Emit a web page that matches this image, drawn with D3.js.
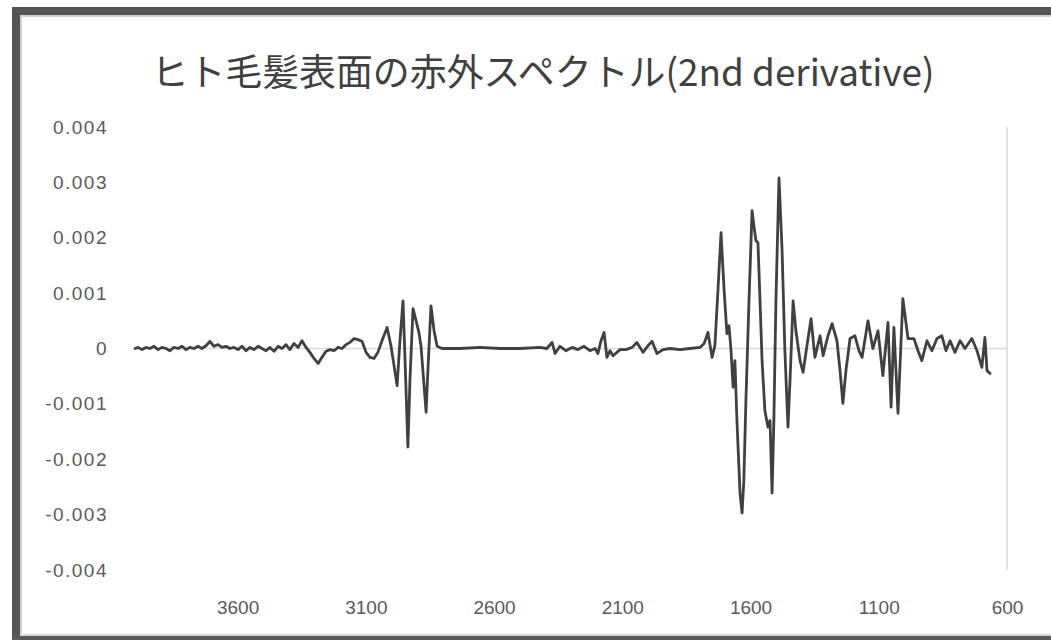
<!DOCTYPE html>
<html lang="ja">
<head>
<meta charset="utf-8">
<title>ヒト毛髪表面の赤外スペクトル(2nd derivative)</title>
<script src="https://cdn.jsdelivr.net/npm/d3@7"></script>
<style>
  html, body { margin: 0; padding: 0; background: #ffffff; }
  svg { display: block; }
</style>
</head>
<body>
<svg id="chart" width="1051" height="640"></svg>
<script>
// Second-derivative IR spectrum of the human hair surface (wavenumber in cm-1)
const wavenumber = [
  4000, 3988, 3973, 3957, 3942, 3926, 3910, 3895, 3879, 3864, 3848, 3832, 3817, 3801, 3786, 3770,
  3754, 3739, 3723, 3708, 3692, 3676, 3661, 3645, 3630, 3614, 3598, 3583, 3567, 3552, 3536, 3520,
  3505, 3489, 3474, 3458, 3442, 3427, 3411, 3396, 3380, 3364, 3349, 3333, 3318, 3302, 3286, 3271,
  3255, 3240, 3224, 3208, 3193, 3177, 3162, 3146, 3131, 3115, 3099, 3084, 3068, 3053, 3037, 3017,
  3002, 2978, 2967, 2955, 2947, 2936, 2928, 2916, 2904, 2893, 2885, 2873, 2865, 2858, 2846, 2834,
  2822, 2803, 2733, 2655, 2577, 2499, 2421, 2394, 2374, 2362, 2343, 2320, 2296, 2273, 2249, 2226,
  2206, 2195, 2183, 2171, 2160, 2148, 2136, 2109, 2086, 2062, 2043, 2019, 2000, 1984, 1965, 1941,
  1914, 1875, 1836, 1797, 1781, 1766, 1750, 1739, 1727, 1715, 1703, 1692, 1684, 1676, 1668, 1661,
  1653, 1641, 1633, 1626, 1618, 1606, 1594, 1587, 1579, 1571, 1563, 1555, 1544, 1532, 1524, 1516,
  1509, 1501, 1489, 1477, 1466, 1454, 1446, 1434, 1423, 1407, 1395, 1380, 1364, 1349, 1329, 1317,
  1298, 1282, 1263, 1251, 1240, 1228, 1212, 1193, 1177, 1165, 1142, 1123, 1103, 1084, 1064, 1052,
  1041, 1025, 1006, 986, 963, 947, 932, 912, 893, 873, 854, 838, 822, 803, 783, 764,
  737, 717, 698, 686, 678, 666
];

const secondDerivative = [
  0, 0.00002, -0.00002, 0.00002, 0, 0.00004, -0.00002, 0.00002, 0, -0.00004, 0.00002, 0, 0.00004, -0.00002, 0.00002, 0,
  0.00004, 0, 0.00005, 0.00013, 0.00004, 0.00007, 0.00002, 0.00004, 0, 0.00002, -0.00002, 0.00004, -0.00004, 0.00002, -0.00002, 0.00004,
  0, -0.00004, 0.00002, -0.00005, 0.00004, 0, 0.00007, -0.00002, 0.00009, 0.00002, 0.00014, 0.00002, -0.00007, -0.00018, -0.00027, -0.00016,
  -0.00005, -0.00002, -0.00004, 0.00002, 0, 0.00007, 0.00011, 0.00018, 0.00016, 0.00013, -0.00007, -0.00016, -0.00018, -0.00007, 0.00014, 0.00038,
  0.00005, -0.00067, 0.00014, 0.00086, -0.00022, -0.00178, -0.00058, 0.00072, 0.0005, 0.00029, 0.00005, -0.00067, -0.00115, -0.0004, 0.00077, 0.00032,
  0.00004, 0, 0, 0.00002, 0, 0, 0.00002, 0, 0.00011, -0.00009, 0.00004, -0.00004, 0.00002, -0.00002, 0.00004, -0.00004,
  0, -0.00009, 0.00014, 0.00029, -0.00016, -0.00004, -0.00013, -0.00002, -0.00002, 0.00002, 0.00011, -0.00007, 0.00005, 0.00013, -0.00009, -0.00002,
  0, -0.00002, 0, 0.00002, 0.00009, 0.00029, -0.00016, 0.00005, 0.00105, 0.00209, 0.00105, 0.00027, 0.00041, -0.00004, -0.0007, -0.00022,
  -0.0013, -0.00261, -0.00297, -0.00238, -0.00094, 0.00086, 0.00249, 0.00222, 0.00195, 0.00191, 0.00086, -0.00022, -0.00112, -0.00142, -0.0013, -0.00261,
  -0.0013, 0.00086, 0.00308, 0.00177, -0.00004, -0.00142, -0.00058, 0.00086, 0.00032, -0.00022, -0.00043, 0.00005, 0.00054, -0.00016, 0.00023, -0.00013,
  0.00023, 0.00045, 0.00014, -0.0004, -0.00099, -0.0004, 0.00018, 0.00023, -0.00004, -0.00016, 0.0005, 0, 0.00032, -0.00049, 0.00047, -0.00106,
  0.00038, -0.00117, 0.0009, 0.00018, 0.00018, -0.00004, -0.00022, 0.00014, -0.00004, 0.00018, 0.00023, -0.00004, 0.00014, -0.00007, 0.00014, 0,
  0.00018, -0.00004, -0.00034, 0.0002, -0.0004, -0.00045
];

const xTicks = [3600, 3100, 2600, 2100, 1600, 1100, 600];
const yTicks = [0.004, 0.003, 0.002, 0.001, 0, -0.001, -0.002, -0.003, -0.004];
const chartTitle = "ヒト毛髪表面の赤外スペクトル(2nd derivative)";

const svg = d3.select("#chart");
const W = 1051, H = 640;

// Outer frame (dark band on top, left and bottom)
const frame = svg.append("g").attr("class", "frame");
frame.append("rect").attr("x", 12).attr("y", 7).attr("width", W - 12).attr("height", 8).attr("fill", "#555555");
frame.append("rect").attr("x", 12).attr("y", 7).attr("width", 8).attr("height", H - 7).attr("fill", "#555555");
frame.append("rect").attr("x", 12).attr("y", 636).attr("width", W - 12).attr("height", 4).attr("fill", "#5a5a5a");
frame.append("rect").attr("x", 20).attr("y", 15).attr("width", W - 20).attr("height", 2).attr("fill", "#cfcfcf");
frame.append("rect").attr("x", 20).attr("y", 15).attr("width", 2).attr("height", 621).attr("fill", "#cfcfcf");
frame.append("rect").attr("x", 20).attr("y", 634).attr("width", W - 20).attr("height", 2).attr("fill", "#d6d6d6");

// Scales: wavenumber axis runs high to low
const x = d3.scaleLinear().domain([4000, 600]).range([135, 1007]);
const y = d3.scaleLinear().domain([-0.004, 0.004]).range([570, 127]);

// Title
svg.append("text")
  .attr("x", 543)
  .attr("y", 86)
  .attr("text-anchor", "middle")
  .attr("textLength", 783)
  .attr("lengthAdjust", "spacingAndGlyphs")
  .attr("font-family", "'Noto Sans CJK JP', 'Noto Sans', sans-serif")
  .attr("font-size", 37)
  .attr("fill", "#404040")
  .text(chartTitle);

// Axis lines: horizontal at zero, vertical at the low-wavenumber end
svg.append("line")
  .attr("x1", x(4000)).attr("x2", x(600))
  .attr("y1", y(0)).attr("y2", y(0))
  .attr("stroke", "#d9d9d9").attr("stroke-width", 1.5);
svg.append("line")
  .attr("x1", x(600)).attr("x2", x(600))
  .attr("y1", y(0.004)).attr("y2", y(-0.004))
  .attr("stroke", "#d9d9d9").attr("stroke-width", 1.5);

const labelFont = "'Liberation Sans', 'DejaVu Sans', sans-serif";

// X tick labels, placed below the plot area
const xAxis = d3.axisBottom(x).tickValues(xTicks).tickSize(0).tickPadding(31).tickFormat(d3.format("d"));
const gx = svg.append("g").attr("transform", `translate(0,${y(-0.004)})`).call(xAxis);
gx.select(".domain").remove();
gx.selectAll("text").attr("font-family", labelFont).attr("font-size", 19).attr("fill", "#595959");

// Y tick labels, at the left of the plot area
const yAxis = d3.axisLeft(y).tickValues(yTicks).tickSize(0).tickPadding(27)
  .tickFormat(v => v === 0 ? "0" : v.toFixed(3));
const gy = svg.append("g").attr("transform", `translate(${x(4000)},0)`).call(yAxis);
gy.select(".domain").remove();
gy.selectAll("text").attr("font-family", labelFont).attr("font-size", 19)
  .attr("letter-spacing", 1.5).attr("fill", "#595959");

// Spectrum line
const points = wavenumber.map((w, i) => [w, secondDerivative[i]]);
const line = d3.line().x(d => x(d[0])).y(d => y(d[1]));
svg.append("path")
  .datum(points)
  .attr("d", line)
  .attr("fill", "none")
  .attr("stroke", "#404040")
  .attr("stroke-width", 2.8)
  .attr("stroke-linejoin", "round")
  .attr("stroke-linecap", "round");
</script>
</body>
</html>
